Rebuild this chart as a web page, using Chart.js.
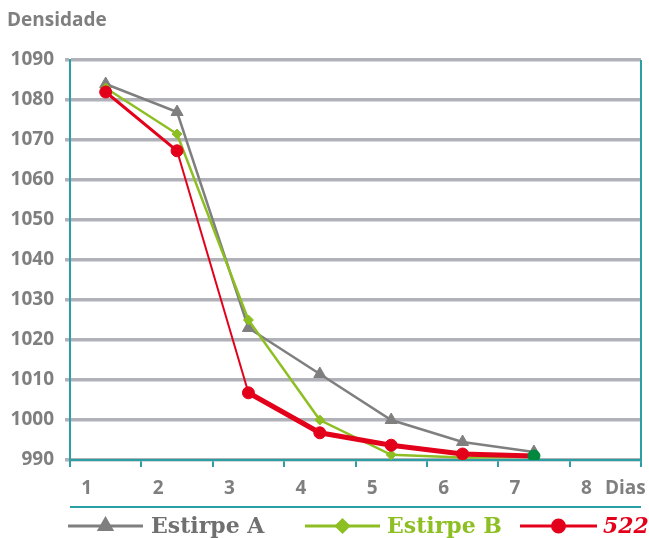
<!DOCTYPE html>
<html>
<head>
<meta charset="utf-8">
<script src="https://cdn.jsdelivr.net/npm/chart.js@4"></script>
<style>
  body { margin: 0; background: #fff; }
  #wrap { width: 649px; height: 538px; }
</style>
</head>
<body>
<div id="wrap"><canvas id="densChart" width="649" height="538"></canvas></div>
<script>
// datos
const dias = ["1", "2", "3", "4", "5", "6", "7", "8"];
const estirpeA = [1084, 1077, 1023, 1011.5, 1000, 994.5, 992];
const estirpeB = [1083, 1071.5, 1025, 1000, 991.3, 990.6, 990.8];
const serie522 = [1082, 1067.3, 1006.8, 996.8, 993.7, 991.5, 991];
const yTicks = [990, 1000, 1010, 1020, 1030, 1040, 1050, 1060, 1070, 1080, 1090];

const gris = "#7f7f7f";
const verde = "#8dbf23";
const rojo = "#e3001b";
const teal = "#2aa0a4";
const labelFont = { family: "'Open Sans', sans-serif", size: 19, weight: "bold" };

// textos extra: titulo, "Dias", linea bajo el eje y leyenda
const extras = {
  id: "extras",
  afterDraw(chart) {
    const ctx = chart.ctx;
    const area = chart.chartArea;
    ctx.save();
    ctx.fillStyle = gris;
    ctx.font = "bold 19px 'Open Sans', sans-serif";
    ctx.textBaseline = "middle";
    ctx.textAlign = "left";
    ctx.fillText("Densidade", 7, 21);
    ctx.fillText("Dias", 605, 489);

    // borde derecho
    ctx.strokeStyle = teal;
    ctx.lineWidth = 2;
    ctx.beginPath();
    ctx.moveTo(area.right, area.top);
    ctx.lineTo(area.right, area.bottom);
    ctx.stroke();
    // linea debajo de las etiquetas
    ctx.beginPath();
    ctx.moveTo(area.left, 507);
    ctx.lineTo(area.right, 507);
    ctx.stroke();

    // leyenda
    const items = [
      { text: "Estirpe A", color: gris, txtColor: "#707070", style: "triangle", x0: 68, x1: 143, tx: 151, font: "bold 22px 'DejaVu Serif', serif", r: 7 },
      { text: "Estirpe B", color: verde, txtColor: verde, style: "rectRot", x0: 305, x1: 380, tx: 387, font: "bold 22px 'DejaVu Serif', serif", r: 6 },
      { text: "522", color: rojo, txtColor: rojo, style: "circle", x0: 520, x1: 597, tx: 603, font: "italic bold 22px 'DejaVu Serif', serif", r: 6 }
    ];
    const ly = 526;
    items.forEach((it) => {
      ctx.strokeStyle = it.color;
      ctx.lineWidth = 3;
      ctx.beginPath();
      ctx.moveTo(it.x0, ly);
      ctx.lineTo(it.x1, ly);
      ctx.stroke();
      ctx.fillStyle = it.color;
      Chart.helpers.drawPoint(ctx, { pointStyle: it.style, radius: it.r, borderWidth: 1 }, (it.x0 + it.x1) / 2, ly);
      ctx.fillStyle = it.txtColor;
      ctx.font = it.font;
      ctx.textBaseline = "alphabetic";
      ctx.fillText(it.text, it.tx, 533);
    });
    ctx.restore();
  }
};

new Chart(document.getElementById("densChart"), {
  type: "line",
  data: {
    labels: dias,
    datasets: [
      {
        label: "Estirpe A",
        data: estirpeA,
        borderColor: gris,
        backgroundColor: gris,
        borderWidth: 2.5,
        pointStyle: "triangle",
        pointRadius: 7,
        pointBorderWidth: 1,
        order: 3
      },
      {
        label: "Estirpe B",
        data: estirpeB,
        borderColor: verde,
        backgroundColor: verde,
        borderWidth: 2.5,
        pointStyle: "rectRot",
        pointRadius: 5,
        pointBorderWidth: 1,
        order: 2
      },
      {
        label: "522",
        data: serie522,
        borderColor: rojo,
        backgroundColor: serie522.map((v, i) => (i === serie522.length - 1 ? "#00883f" : rojo)),
        pointBorderColor: serie522.map((v, i) => (i === serie522.length - 1 ? "#00883f" : rojo)),
        borderWidth: 5,
        segment: {
          borderWidth: (c) => (c.p0DataIndex === 0 ? 3 : c.p0DataIndex === 1 ? 2 : 5)
        },
        pointStyle: "circle",
        pointRadius: 6,
        pointBorderWidth: 1,
        order: 1
      }
    ]
  },
  options: {
    responsive: false,
    animation: false,
    layout: { padding: { top: 60, right: 3, bottom: 38, left: 0 } },
    plugins: { legend: { display: false }, tooltip: { enabled: false } },
    scales: {
      x: {
        type: "category",
        offset: true,
        afterFit: (s) => { s.height = 40; },
        border: { color: teal, width: 2 },
        grid: { offset: true, drawOnChartArea: false, color: teal, lineWidth: 2, tickLength: 7 },
        ticks: { color: gris, font: labelFont, padding: 10, labelOffset: -19, maxRotation: 0 }
      },
      y: {
        min: 990,
        max: 1090,
        afterFit: (s) => { s.width = 70; },
        afterBuildTicks: (s) => { s.ticks = yTicks.map((v) => ({ value: v })); },
        border: { color: teal, width: 2 },
        grid: { color: "#b1b1b9", lineWidth: 3.5, tickLength: 5 },
        ticks: { color: gris, font: labelFont, padding: 11, callback: (v) => String(v) }
      }
    }
  },
  plugins: [extras]
});
</script>
</body>
</html>
